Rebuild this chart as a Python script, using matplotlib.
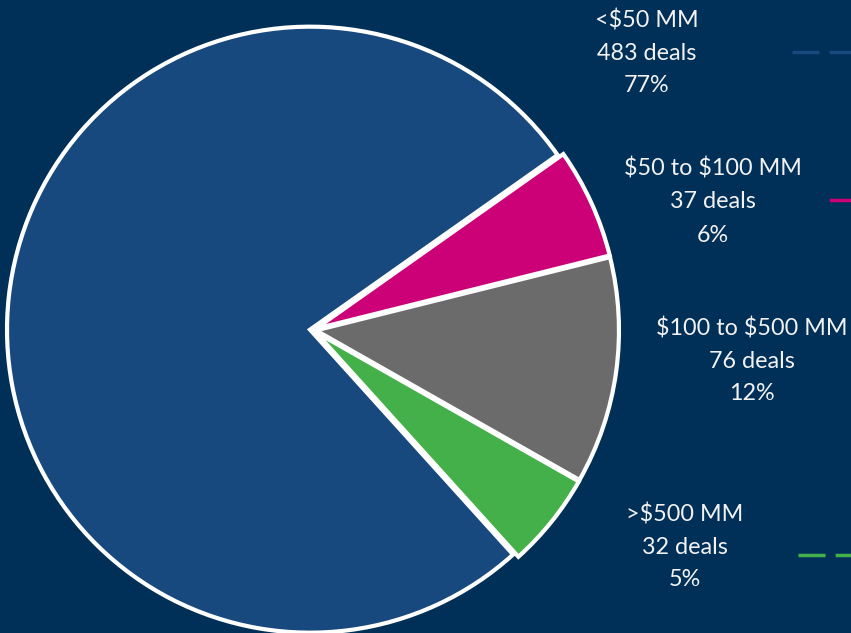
import matplotlib.pyplot as plt

labels = ["<$50 MM", "$50 to $100 MM", "$100 to $500 MM", ">$500 MM"]
deals = [483, 37, 76, 32]
pcts = ["77%", "6%", "12%", "5%"]
colors = ["#17487e", "#cc0077", "#6b6b6b", "#44b04a"]

bg = "#003057"
W, H = 851, 633

fig = plt.figure(figsize=(W / 100, H / 100), dpi=100, facecolor=bg)
ax = fig.add_axes([0, 0, 1, 1])
ax.set_facecolor(bg)

total = sum(deals)
start = 35.2 + 360 * deals[0] / total
ax.pie(deals, colors=colors, startangle=start, counterclock=False,
       radius=303, center=(313, H - 330), explode=[3, 3, 3, 3],
       wedgeprops=dict(edgecolor="white", linewidth=3))
ax.set_xlim(0, W)
ax.set_ylim(0, H)
ax.set_aspect("equal")
ax.axis("off")

# label blocks (centre x, top line y in pixels)
label_pos = [(647, 20), (713, 169), (752, 328), (685, 514)]
for (x, y), lab, d, p in zip(label_pos, labels, deals, pcts):
    for i, s in enumerate([lab, f"{d} deals", p]):
        ax.text(x, H - (y + i * 33), s, ha="center", va="center",
                fontsize=16.8, color="#f2f2f2", family="Lato",
                parse_math=False)

# leader line stubs at right edge
ax.plot([792, 851], [H - 52, H - 52], color=colors[0], lw=2.5, dashes=(7.8, 2.9))
ax.plot([831, 851], [H - 200, H - 200], color=colors[1], lw=2.5)
ax.plot([798, 851], [H - 555, H - 555], color=colors[3], lw=2.5, dashes=(7.8, 2.9))

fig.savefig("out.png", dpi=100, facecolor=bg)
